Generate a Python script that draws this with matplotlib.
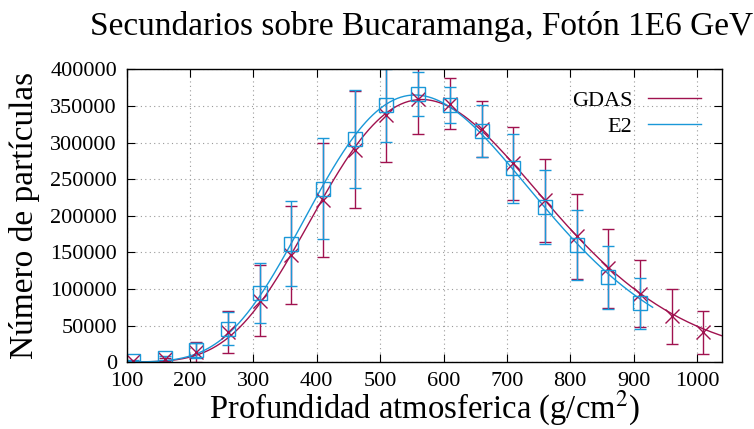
import matplotlib
matplotlib.use("Agg")
import matplotlib.pyplot as plt
import numpy as np

# data
gdas_x = [110, 160, 210, 260, 310, 360, 410, 460, 510, 560,
          610, 660, 710, 760, 810, 860, 910, 960, 1010]
gdas_y = [1000, 4000, 14000, 41000, 84000, 146000, 221000, 290000, 338000, 360000,
          353000, 319000, 272000, 221000, 172000, 128000, 93500, 62500, 41000]
gdas_err = [500, 2000, 14000, 29000, 49000, 67000, 78000, 80000, 64000, 48000,
            35000, 38000, 50000, 57000, 58000, 54000, 46000, 37500, 29500]

e2_x = [110, 160, 210, 260, 310, 360, 410, 460, 510, 560,
        610, 660, 710, 760, 810, 860, 910]
e2_y = [1500, 6000, 16000, 45700, 94000, 162000, 237000, 305000, 351000, 367000,
        352000, 316000, 265000, 212000, 160000, 116000, 80500]
e2_err = [700, 2500, 10000, 23000, 41000, 58000, 69000, 67000, 50000, 30000,
          24500, 36000, 47000, 51000, 48000, 43000, 35000]

x_ticks = [100, 200, 300, 400, 500, 600, 700, 800, 900, 1000]
y_ticks = [0, 50000, 100000, 150000, 200000, 250000, 300000, 350000, 400000]

GDAS_COLOR = "#a0124f"
E2_COLOR = "#1a98d8"


def gh_fit(x, y, x_eval):
    """Gaisser-Hillas like fit: log N = a + b*log(X) + c*X, weighted by N"""
    x = np.asarray(x, float)
    y = np.asarray(y, float)
    A = np.vstack([np.ones_like(x), np.log(x), x]).T
    w = y / y.max()
    coef, *_ = np.linalg.lstsq(A * w[:, None], np.log(y) * w, rcond=None)
    xe = np.asarray(x_eval, float)
    return np.exp(coef[0] + coef[1] * np.log(xe) + coef[2] * xe)


plt.rcParams['font.family'] = ['Liberation Serif', 'DejaVu Serif']
plt.rcParams['mathtext.fontset'] = 'stix'

fig = plt.figure(figsize=(7.54, 4.29), dpi=100)
ax = fig.add_axes([0.168, 0.156, 0.790, 0.682])

ax.grid(True, color="#9a9a9a", linestyle=(0, (1, 3)), linewidth=0.8)
ax.set_axisbelow(True)

xg = np.linspace(gdas_x[0], 1045, 300)
xe = np.linspace(e2_x[0], 930, 300)
ax.plot(xg, gh_fit(gdas_x, gdas_y, xg), color=GDAS_COLOR, lw=1.0, label="GDAS")
ax.plot(xe, gh_fit(e2_x, e2_y, xe), color=E2_COLOR, lw=1.0, label="E2")

ax.errorbar(gdas_x, gdas_y, yerr=gdas_err, fmt='x', color=GDAS_COLOR,
            ms=9.5, mew=1.0, elinewidth=1.0, capsize=4, capthick=1.0)
ax.errorbar(e2_x, e2_y, yerr=e2_err, fmt='s', color=E2_COLOR, mfc='none',
            ms=9.5, mew=1.0, elinewidth=1.0, capsize=4, capthick=1.0)

ax.set_xlim(100, 1040)
ax.set_ylim(0, 400000)
ax.set_xticks(x_ticks)
ax.set_yticks(y_ticks)
ax.tick_params(direction='in', top=True, right=True, length=6, width=0.8,
               labelsize=16)
ax.tick_params(axis='x', pad=7)
ax.tick_params(axis='y', pad=7)
for s in ax.spines.values():
    s.set_linewidth(1.0)

ax.set_xlabel("Profundidad atmosferica (g/cm$^2$)", fontsize=23.5, labelpad=-1)
ax.set_ylabel("Número de partículas", fontsize=24, labelpad=7)
fig.suptitle("Secundarios sobre Bucaramanga, Fotón 1E6 GeV", fontsize=24,
             x=0.559, y=0.975)

ax.legend(loc='upper right', frameon=False, markerfirst=False, fontsize=16,
          handlelength=2.4, handletextpad=0.7, labelspacing=0.25,
          borderaxespad=0.55)

fig.savefig("out.png", dpi=100)
